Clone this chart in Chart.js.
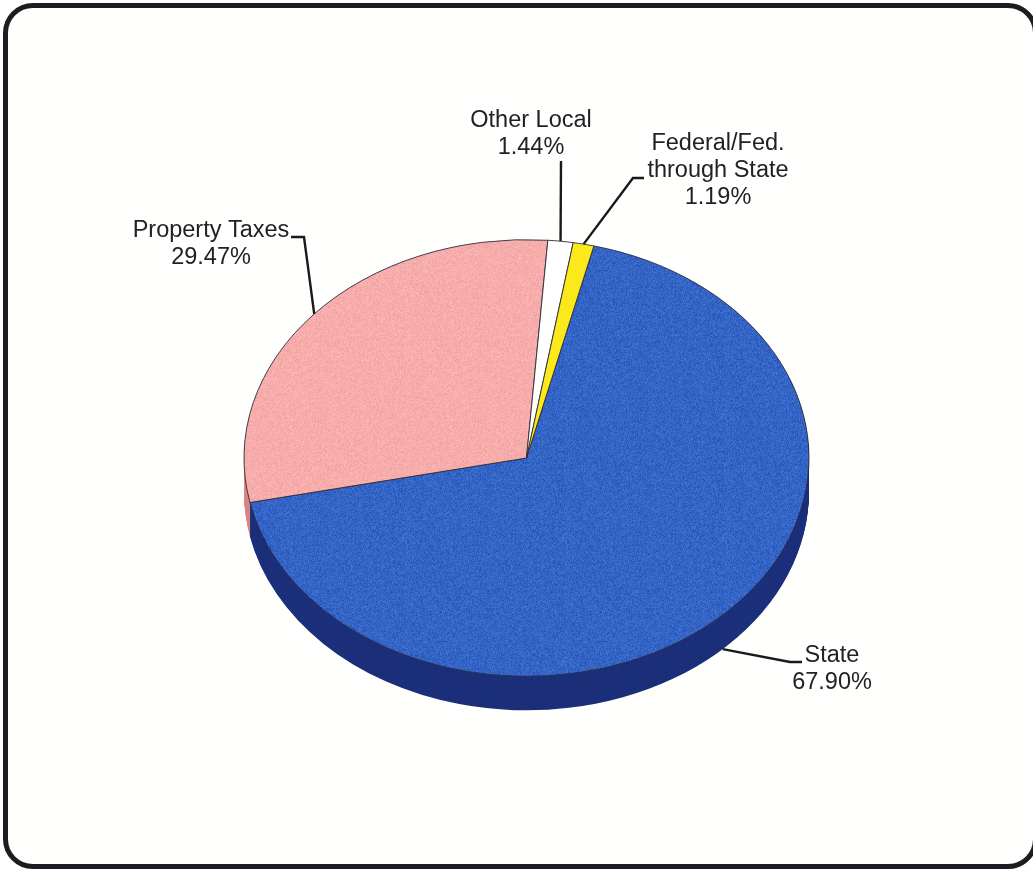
<!DOCTYPE html>
<html>
<head>
<meta charset="utf-8">
<title>Revenue by source</title>
<style>
  html, body { margin: 0; padding: 0; background: #fff; overflow: hidden; }
  #page { position: relative; width: 1033px; height: 869px; overflow: hidden; background: #fff; }
  #frame {
    position: absolute; left: 3px; top: 3px; width: 1025px; height: 856px;
    border: 5px solid #1d1c22; border-radius: 30px; background: #fffffd;
  }
  canvas { position: absolute; left: 0; top: 0; }
</style>
</head>
<body>
<div id="page">
  <div id="frame"></div>
  <canvas id="pie" width="1033" height="869"></canvas>
</div>
<script src="https://cdn.jsdelivr.net/npm/chart.js@4"></script>
<script>
// Values
const categories = ['State', 'Property Taxes', 'Other Local', 'Federal/Fed. through State'];
const shares = [67.90, 29.47, 1.44, 1.19];
const shareLabels = ['67.90%', '29.47%', '1.44%', '1.19%'];
const nameLines = [['State'], ['Property Taxes'], ['Other Local'], ['Federal/Fed.', 'through State']];

// Colours
const faceColors = ['#3465c6', '#f6adac', '#ffffff', '#fbe91c'];
const wallColors = ['#1c2f7a', '#d98585', '#cccccc', '#b8a814'];
const grainStrength = [18, 12, 0, 0];

// Look of the tilted pie
const squash = 0.773;
const depth = 34;
const labelFont = '23.5px "Liberation Sans", Arial, sans-serif';
const lineHeight = 27;

// Label blocks and leader knees, one per slice
const labelCenters = [[832, 656], [211, 231], [531, 121], [718, 144]];
const leaderKnees = [
  [[790, 662], [802, 662]],
  [[304, 237], [291, 237]],
  [[561, 161]],
  [[633, 178], [644, 178]]
];

// Printed-paper grain: a fixed hash per pixel, only a fill style
function grainFill(color, strength) {
  if (!strength) return color;
  const size = 160;
  const tile = document.createElement('canvas');
  tile.width = tile.height = size;
  const g = tile.getContext('2d');
  g.fillStyle = color;
  g.fillRect(0, 0, size, size);
  const img = g.getImageData(0, 0, size, size);
  for (let y = 0; y < size; y++) {
    for (let x = 0; x < size; x++) {
      const h = Math.sin(x * 12.9898 + y * 78.233) * 43758.5453;
      const n = (h - Math.floor(h) - 0.5) * 2 * strength;
      const p = (y * size + x) * 4;
      img.data[p] += n;
      img.data[p + 1] += n;
      img.data[p + 2] += n;
    }
  }
  g.putImageData(img, 0, 0);
  return g.createPattern(tile, 'repeat');
}

// ── Side wall, then the squashed face ───────────────
const tiltPlugin = {
  id: 'tilt',
  beforeDatasetsDraw(chart) {
    const ctx = chart.ctx;
    const arcs = chart.getDatasetMeta(0).data;
    const { x: cx, y: cy, outerRadius: r } = arcs[0];

    ctx.save();
    for (let d = depth; d > 0; d--) {
      arcs.forEach((arc, i) => {
        ctx.save();
        ctx.translate(cx, cy + d);
        ctx.scale(1, squash);
        ctx.beginPath();
        ctx.moveTo(0, 0);
        ctx.arc(0, 0, r, arc.startAngle, arc.endAngle);
        ctx.closePath();
        ctx.fillStyle = wallColors[i];
        ctx.fill();
        ctx.restore();
      });
    }
    ctx.restore();

    ctx.save();
    ctx.translate(cx, cy);
    ctx.scale(1, squash);
    ctx.translate(-cx, -cy);
  },
  afterDatasetsDraw(chart) {
    const ctx = chart.ctx;
    ctx.restore();

    const arcs = chart.getDatasetMeta(0).data;
    ctx.save();
    ctx.strokeStyle = '#1a1a1a';
    ctx.lineWidth = 2.4;
    ctx.font = labelFont;
    ctx.fillStyle = '#222226';
    ctx.textAlign = 'center';
    ctx.textBaseline = 'middle';

    arcs.forEach((arc, i) => {
      // leader starts on the rim at the middle of the slice
      const mid = (arc.startAngle + arc.endAngle) / 2;
      let ax = arc.x + arc.outerRadius * Math.cos(mid);
      let ay = arc.y + arc.outerRadius * squash * Math.sin(mid);
      if (Math.sin(mid) > 0) ay += depth;

      ctx.beginPath();
      ctx.moveTo(ax, ay);
      leaderKnees[i].forEach(p => ctx.lineTo(p[0], p[1]));
      ctx.stroke();

      const [lx, ly] = labelCenters[i];
      nameLines[i].concat(shareLabels[i]).forEach((line, n) => ctx.fillText(line, lx, ly + n * lineHeight));
    });
    ctx.restore();
  }
};

new Chart(document.getElementById('pie'), {
  type: 'pie',
  data: {
    labels: categories,
    datasets: [{
      data: shares,
      backgroundColor: faceColors.map((c, i) => grainFill(c, grainStrength[i])),
      borderColor: '#2a2a3a',
      borderWidth: 1
    }]
  },
  options: {
    responsive: false,
    animation: false,
    radius: 282.5,
    rotation: 13.8,
    layout: { padding: { left: 20, top: 47 } },
    plugins: {
      legend: { display: false },
      tooltip: { enabled: false }
    }
  },
  plugins: [tiltPlugin]
});
</script>
</body>
</html>
